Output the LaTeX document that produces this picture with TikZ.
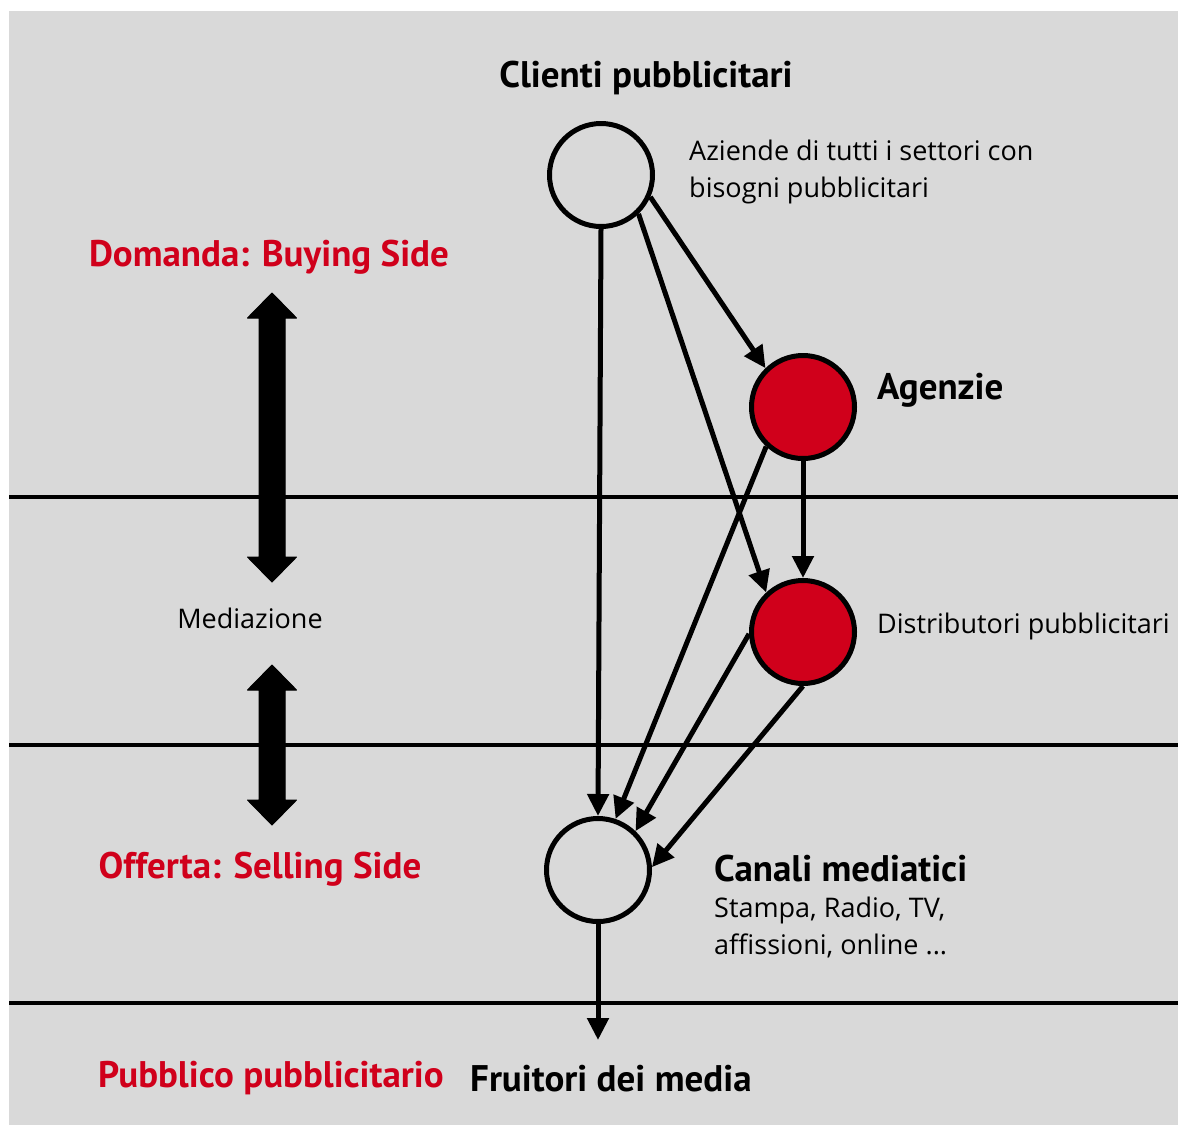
\documentclass[tikz,border=0pt]{standalone}
\usepackage{fontspec}
\setmainfont{PT Sans}
\newfontfamily\regfont{Open Sans}
\usetikzlibrary{arrows.meta}
\definecolor{bggray}{RGB}{217,217,217}
\definecolor{myred}{RGB}{208,0,27}
\tikzset{
  circ/.style={circle, draw=black, line width=5pt, minimum size=103pt, inner sep=0pt},
  redcirc/.style={circ, fill=myred},
  conn/.style={line width=5pt, -{Triangle[length=22pt,width=21pt]}},
  sepline/.style={line width=3.5pt},
  bigarrow/.style={fill=black, draw=black, line width=1pt, line join=round},
  boldlbl/.style={font=\fontsize{37}{40}\selectfont\bfseries, inner sep=0pt},
  redlbl/.style={boldlbl, text=myred},
  smalllbl/.style={font=\regfont\fontsize{27}{37}\selectfont, inner sep=0pt, align=left},
}
\begin{document}
\begin{tikzpicture}[x=1pt,y=-1pt]
\useasboundingbox (0,0) rectangle (1178,1125);
\fill[bggray] (9,11) rectangle (1178,1125);
% separator lines
\draw[sepline] (9,497) -- (1178,497);
\draw[sepline] (9,745) -- (1178,745);
\draw[sepline] (9,1003) -- (1178,1003);
% big double arrows
\draw[bigarrow] (272,293) -- (296.5,318) -- (285,318) -- (285,557) -- (296.5,557) -- (272,582) -- (247.5,557) -- (259,557) -- (259,318) -- (247.5,318) -- cycle;
\draw[bigarrow] (272,665) -- (296.5,690) -- (285,690) -- (285,800) -- (296.5,800) -- (272,825) -- (247.5,800) -- (259,800) -- (259,690) -- (247.5,690) -- cycle;
% circles
\node[circ] (cl) at (601,175) {};
\node[redcirc] (ag) at (803,407) {};
\node[redcirc] (di) at (803,632) {};
\node[circ] (ca) at (598,870) {};
\coordinate (out) at (598,1040);
% connectors
\draw[conn] (cl.south) -- (ca.north);
\draw[conn] (cl.-24) -- (ag.134);
\draw[conn] (cl.-46) -- (di.133);
\draw[conn] (ag.south) -- (di.north);
\draw[conn] (ag.227) -- (ca.71);
\draw[conn] (di.182) -- (ca.46);
\draw[conn] (di.south) -- (ca.3);
\draw[conn] (ca.south) -- (out);
% labels
\node[boldlbl] (tclienti) at (646,78) {Clienti pubblicitari};
\node[smalllbl, anchor=north west] (taziende) at (689,140) {Aziende di tutti i settori con\\bisogni pubblicitari};
\node[redlbl] (tdomanda) at (269,257) {Domanda: Buying Side};
\node[boldlbl, anchor=west] (tagenzie) at (877,390) {Agenzie};
\node[smalllbl] (tmed) at (250,618) {Mediazione};
\node[smalllbl, anchor=west] (tdistr) at (877,626) {Distributori pubblicitari};
\node[redlbl] (tofferta) at (260,869) {Offerta: Selling Side};
\node[boldlbl, anchor=west] (tcanali) at (714,869) {Canali mediatici};
\node[smalllbl, anchor=north west] (tstampa) at (714,897) {Stampa, Radio, TV,\\affissioni, online ...};
\node[redlbl] (tpubblico) at (271,1078) {Pubblico pubblicitario};
\node[boldlbl, anchor=west] (tfruitori) at (470,1079) {Fruitori dei media};
\end{tikzpicture}
\end{document}
